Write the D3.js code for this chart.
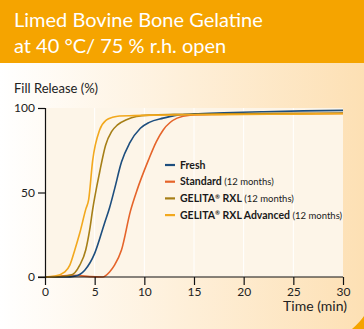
<!DOCTYPE html>
<meta charset="utf-8">
<head>
    <script type="text/javascript" src="https://cdn.jsdelivr.net/npm/d3@7"></script>
    <style>
        body { margin: 0; }
        svg { display: block; font-family: Lato, sans-serif; }
    </style>
</head>
<body>
<div id="chart"></div>
</body>
<script>
    // data
    var seriesNames = ["Fresh", "Standard", "GELITA|RXL", "GELITA|RXL Advanced"];
    var seriesNotes = ["", "(12 months)", "(12 months)", "(12 months)"];
    var seriesColors = ["#1d4e7e", "#e5642a", "#a67f17", "#f2a81d"];

    var freshT = [0, 2, 3, 4, 5, 6, 6.5, 7, 7.7, 8.5, 9.6, 10.5, 11.9, 13, 15, 18, 22, 26, 30];
    var freshV = [0, 0, 0.5, 4, 14, 32, 41, 52, 68, 79, 88, 91.5, 94, 95.5, 96.5, 97.2, 97.8, 98.3, 98.6];

    var standardT = [0, 1.5, 2.5, 3.5, 4.5, 5.8, 6.5, 7, 7.7, 8.6, 9.3, 10.4, 11.2, 11.9, 13.3, 14.6, 17, 22, 30];
    var standardV = [0, 0.4, 1, 0.8, 0.2, 0, 3, 7, 16, 39, 52, 69, 80, 87, 94, 95.7, 96.2, 96.5, 96.8];

    var rxlT = [0, 1.5, 2.5, 3, 3.5, 4.1, 4.5, 4.8, 5.5, 6.1, 6.7, 7.3, 8.2, 9.2, 10.5, 13, 18, 24, 30];
    var rxlV = [0, 0.3, 1, 2.5, 7, 16, 28, 40, 62, 78, 86, 90, 93, 95, 95.8, 96.2, 96.5, 96.8, 97];

    var advT = [0, 1, 2, 2.5, 3, 3.5, 4.1, 4.4, 4.8, 5.5, 6.2, 6.8, 7.5, 9, 11, 15, 20, 25, 30];
    var advV = [0, 0.5, 3, 7, 16, 26, 40, 46, 69, 87, 93, 94.5, 95.3, 95.5, 95.8, 96, 96.2, 96.4, 96.6];

    var xTicks = [0, 5, 10, 15, 20, 25, 30];
    var yTicks = [0, 50, 100];

    var series = [[freshT, freshV], [standardT, standardV], [rxlT, rxlV], [advT, advV]].map(function (s, i) {
        return {name: seriesNames[i], note: seriesNotes[i], color: seriesColors[i],
            values: s[0].map(function (t, j) { return {t: t, v: s[1][j]}; })};
    });

    var width = 364, height = 329;
    var margin = {top: 108, right: 21, bottom: 52, left: 45};

    var svg = d3.select('#chart').append('svg')
        .attr('width', width)
        .attr('height', height);

    var defs = svg.append('defs');
    var grad = defs.append('linearGradient').attr('id', 'bg').attr('x1', '0%').attr('x2', '100%');
    grad.append('stop').attr('offset', '0%').attr('stop-color', '#ffffff');
    grad.append('stop').attr('offset', '100%').attr('stop-color', '#fde0b4');

    svg.append('rect').attr('width', width).attr('height', height).attr('fill', 'url(#bg)');

    // header band
    svg.append('rect').attr('width', width).attr('height', 63).attr('fill', '#f5a400');
    var title = svg.append('text').attr('fill', '#ffffff').attr('font-size', 20);
    title.append('tspan').attr('x', 14).attr('y', 27).text('Limed Bovine Bone Gelatine');
    title.append('tspan').attr('x', 14).attr('y', 53).text('at 40 °C/ 75 % r.h. open');

    // corner decoration
    svg.append('path').attr('d', 'M352,329 Q360,322 364,316 L364,329 Z').attr('fill', '#f5a400');

    var x = d3.scaleLinear().domain([0, 30]).range([margin.left, width - margin.right]);
    var y = d3.scaleLinear().domain([0, 100]).range([height - margin.bottom, margin.top]);

    // plot background + faint grid
    svg.append('rect')
        .attr('x', x(0)).attr('y', y(100))
        .attr('width', x(30) - x(0)).attr('height', y(0) - y(100))
        .attr('fill', '#fdf5e8');
    svg.append('g').selectAll('line').data(xTicks.slice(1, -1)).join('line')
        .attr('x1', d => x(d)).attr('x2', d => x(d))
        .attr('y1', y(100)).attr('y2', y(0))
        .attr('stroke', '#ffffff').attr('stroke-width', 1);

    var line = d3.line()
        .x(d => x(d.t))
        .y(d => y(d.v))
        .curve(d3.curveMonotoneX);

    // draw in back-to-front order
    [1, 0, 2, 3].forEach(function (i) {
        svg.append('path')
            .datum(series[i].values)
            .attr('fill', 'none')
            .attr('stroke', series[i].color)
            .attr('stroke-width', 1.6)
            .attr('d', line);
    });

    // axes
    var xAxis = svg.append('g')
        .attr('transform', 'translate(0,' + y(0) + ')')
        .call(d3.axisBottom(x).tickValues(xTicks).tickSize(8).tickPadding(2));
    var yAxis = svg.append('g')
        .attr('transform', 'translate(' + x(0) + ',0)')
        .call(d3.axisLeft(y).tickValues(yTicks).tickSize(7).tickPadding(3));
    [xAxis, yAxis].forEach(function (a) {
        a.select('.domain').attr('stroke', '#111').attr('stroke-width', 1.2);
        a.selectAll('.tick line').attr('stroke', '#111').attr('stroke-width', 1.2);
        a.selectAll('.tick text').attr('fill', '#222').attr('font-size', 12)
            .attr('font-family', 'Lato, sans-serif');
    });
    xAxis.select('.domain').attr('d', 'M' + (x(0) - 7) + ',0H' + x(30));

    svg.append('text').attr('x', 14).attr('y', 93)
        .attr('font-size', 13).attr('fill', '#222')
        .text('Fill Release (%)');
    svg.append('text').attr('x', 347).attr('y', 311).attr('text-anchor', 'end')
        .attr('font-size', 14).attr('fill', '#222')
        .text('Time (min)');

    // legend
    var legend = svg.append('g').selectAll('g').data(series).join('g')
        .attr('transform', (d, i) => 'translate(165,' + (165 + i * 16.7) + ')');
    legend.append('line').attr('x1', 0).attr('x2', 10)
        .attr('stroke', d => d.color).attr('stroke-width', 2.2);
    var lt = legend.append('text').attr('x', 15).attr('dy', '0.35em')
        .attr('fill', '#1a1a1a').attr('font-size', 10.5);
    lt.each(function (d) {
        var t = d3.select(this);
        var parts = d.name.split('|');
        t.append('tspan').attr('font-weight', 'bold').text(parts[0]);
        if (parts.length > 1) {
            t.append('tspan').attr('font-size', 6).attr('dy', -3.5).attr('font-weight', 'bold').text('®');
            t.append('tspan').attr('dy', 3.5).attr('font-weight', 'bold').text(' ' + parts[1]);
        }
        if (d.note) t.append('tspan').attr('font-size', 9.5).text(' ' + d.note);
    });
</script>
</html>
